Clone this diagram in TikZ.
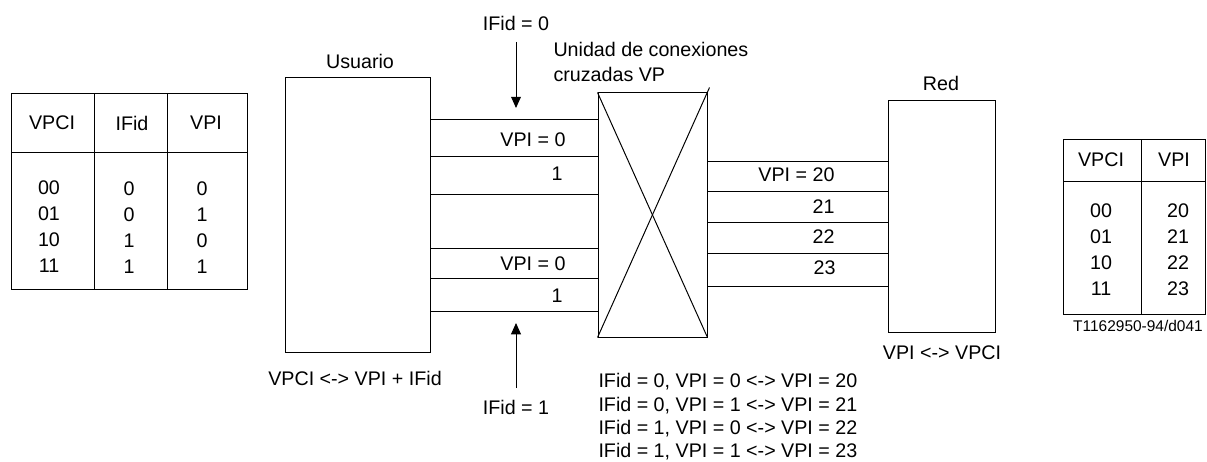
\documentclass[tikz,border=0pt]{standalone}
\usepackage{fontspec}
\setmainfont{Liberation Sans}
\usetikzlibrary{arrows.meta,positioning,calc}

\begin{document}
\begin{tikzpicture}[x=0.025cm,y=-0.025cm,>={Triangle[length=8pt,width=7pt]},
   font=\fontsize{14}{16.6}\selectfont,line width=0.7pt,
   box/.style={draw,inner sep=0pt},
   tx/.style={inner sep=0pt},
   tcol/.style={inner sep=0pt,anchor=north,align=center,font=\fontsize{14}{18.5}\selectfont}]
  \useasboundingbox (0,0) rectangle (1207,461);
  % user side table
  \draw (11,93) rectangle (247,289);
  \draw (11,152) -- (247,152) (94,93) -- (94,289) (167,93) -- (167,289);
  \node[tx] (h1) at (52,123) {VPCI};
  \node[tx] (h2) at (132,123) {IFid};
  \node[tx] (h3) at (206,123) {VPI};
  \node[tcol] (c1) at (49,180) {00\\01\\10\\11};
  \node[tcol] (c2) at (129,181) {0\\0\\1\\1};
  \node[tcol] (c3) at (202,181) {0\\1\\0\\1};

  \node[box,minimum width=3.6cm,minimum height=6.85cm] (usr) at (358,215) {};
  \node[box,minimum width=2.725cm,minimum height=6.1cm] (xc) at (652.5,215) {};
  \node[box,minimum width=2.675cm,minimum height=5.775cm] (red) at (941.5,216.5) {};
  \draw (xc.north west) -- (xc.south east);
  \draw (xc.south west) -- ($(xc.north east)+(2,-5)$);

  \node[tx] (usrlab) at (360,61) {Usuario};
  \node[tx] (redlab) at (941,83) {Red};
  \node[tx,align=left,anchor=west,font=\fontsize{14}{17.8}\selectfont] (xclab) at (553,61.5)
     {Unidad de conexiones\\cruzadas VP};

  \foreach \y in {119,156,194,248,278,311}
    \draw (usr.east |- 0,\y) -- (xc.west |- 0,\y);
  \foreach \y in {161,191,222,253,286}
    \draw (xc.east |- 0,\y) -- (red.west |- 0,\y);

  \node[tx,anchor=east] (l1) at (566,140) {VPI = 0};
  \node[tx,anchor=east] (l2) at (563,174) {1};
  \node[tx,anchor=east] (l3) at (566,264) {VPI = 0};
  \node[tx,anchor=east] (l4) at (563,296) {1};
  \node[tx,anchor=east] (r1) at (835,175) {VPI = 20};
  \node[tx,anchor=east] (r2) at (835,207) {21};
  \node[tx,anchor=east] (r3) at (835,237) {22};
  \node[tx,anchor=east] (r4) at (836,268) {23};

  \node[tx] (if0) at (516,23) {IFid = 0};
  \coordinate (ta) at (516,108);
  \draw[->,shorten <=8pt] (if0) -- (ta);
  \node[tx] (if1) at (516,407) {IFid = 1};
  \coordinate (tb) at (516,323);
  \draw[->,shorten <=8pt] (if1) -- (tb);

  \node[tx] (usrmap) at (355,378) {VPCI <-> VPI + IFid};
  \node[tx] (redmap) at (942,353) {VPI <-> VPCI};
  \node[tx,align=left,anchor=north west] (rules) at (598,373)
     {IFid = 0, VPI = 0 <-> VPI = 20\\IFid = 0, VPI = 1 <-> VPI = 21\\
      IFid = 1, VPI = 0 <-> VPI = 22\\IFid = 1, VPI = 1 <-> VPI = 23};

  % network side table
  \draw (1063,139) rectangle (1205,314);
  \draw (1063,181) -- (1205,181) (1141,139) -- (1141,314);
  \node[tx] (h4) at (1101,160) {VPCI};
  \node[tx] (h5) at (1174,160) {VPI};
  \node[tcol] (c4) at (1101,203) {00\\01\\10\\11};
  \node[tcol] (c5) at (1178,203) {20\\21\\22\\23};
  \node[tx,font=\fontsize{11}{13}\selectfont] (ref) at (1138,326) {T1162950-94/d041};
\end{tikzpicture}
\end{document}
